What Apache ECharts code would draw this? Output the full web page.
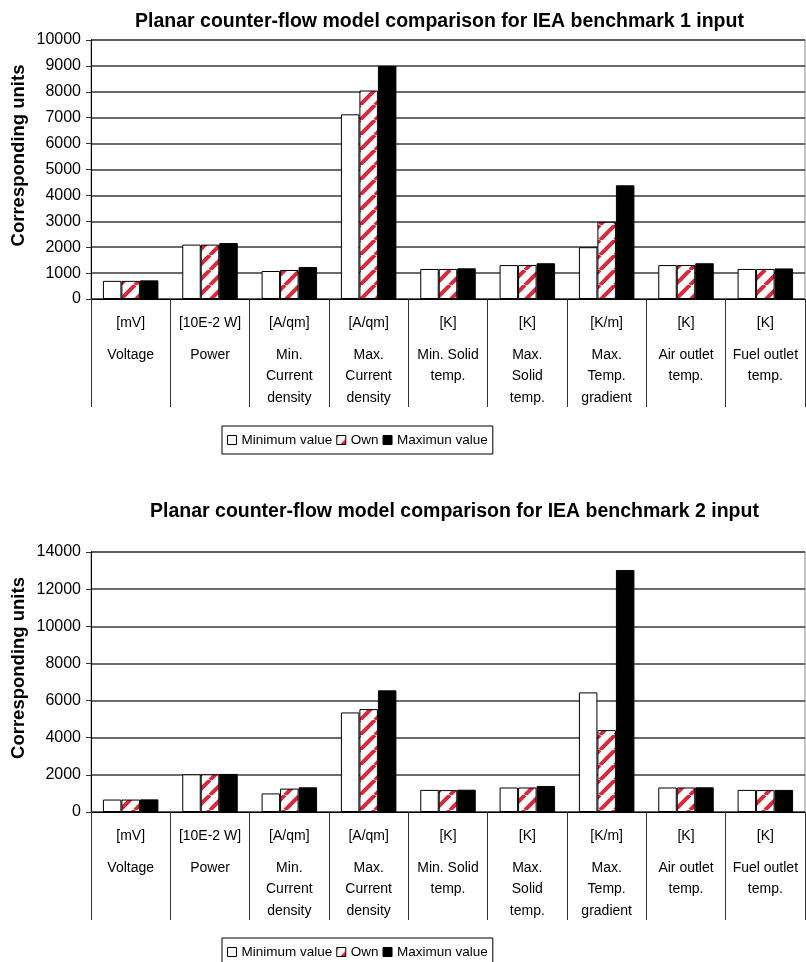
<!DOCTYPE html>
<html>
<head>
<meta charset="utf-8">
<title>Planar counter-flow model comparison</title>
<script src="https://cdn.jsdelivr.net/npm/echarts@6/dist/echarts.min.js"></script>
<style>
  html, body { margin: 0; padding: 0; background: #fff; }
  #chart { width: 806px; height: 962px; }
</style>
</head>
<body>
<div id="chart"></div>
<script>
// Quantities compared, with their units
const categoryUnits = ['[mV]', '[10E-2 W]', '[A/qm]', '[A/qm]', '[K]', '[K]', '[K/m]', '[K]', '[K]'];
const categoryNames = ['Voltage', 'Power', 'Min.\nCurrent\ndensity', 'Max.\nCurrent\ndensity',
  'Min. Solid\ntemp.', 'Max.\nSolid\ntemp.', 'Max.\nTemp.\ngradient', 'Air outlet\ntemp.', 'Fuel outlet\ntemp.'];

const seriesNames = ['Minimum value', 'Own', 'Maximun value'];

// IEA benchmark 1 input
const bench1Min = [700, 2100, 1080, 7130, 1160, 1310, 2000, 1310, 1160];
const bench1Own = [700, 2100, 1120, 8050, 1160, 1310, 2980, 1310, 1160];
const bench1Max = [720, 2160, 1235, 9000, 1185, 1380, 4390, 1380, 1180];

// IEA benchmark 2 input
const bench2Min = [670, 2030, 1000, 5360, 1190, 1320, 6440, 1320, 1190];
const bench2Own = [670, 2030, 1260, 5540, 1180, 1320, 4410, 1320, 1180];
const bench2Max = [680, 2050, 1330, 6550, 1200, 1400, 13030, 1330, 1190];

const titles = [
  'Planar counter-flow model comparison for IEA benchmark 1 input',
  'Planar counter-flow model comparison for IEA benchmark 2 input'
];

// Red diagonal hatch used for the "Own" bars
function makeHatch() {
  const p = 15;
  const c = document.createElement('canvas');
  c.width = p; c.height = p;
  const ctx = c.getContext('2d');
  ctx.fillStyle = '#ffffff';
  ctx.fillRect(0, 0, p, p);
  ctx.strokeStyle = '#d9283c';
  ctx.lineWidth = 4;
  for (const x0 of [-p, 0, p]) {
    ctx.beginPath();
    ctx.moveTo(x0, p);
    ctx.lineTo(x0 + p, 0);
    ctx.stroke();
  }
  return c;
}
const hatch = { image: makeHatch(), repeat: 'repeat' };

const sans = '"Liberation Sans", Arial, sans-serif';

function catLabel(value, index) {
  const lines = value.split('\n').map(s => '{n|' + s + '}').join('\n');
  return '{u|' + categoryUnits[index] + '}\n' + lines;
}

function xAxisFor(gridIndex) {
  return {
    type: 'category',
    gridIndex: gridIndex,
    data: categoryNames,
    axisLine: { lineStyle: { color: '#000', width: 1 } },
    axisTick: { show: true, length: 108, lineStyle: { color: '#333', width: 1 } },
    axisLabel: {
      interval: 0,
      margin: 3,
      formatter: catLabel,
      rich: {
        u: { fontFamily: sans, fontSize: 14, color: '#000', lineHeight: 42 },
        n: { fontFamily: sans, fontSize: 14, color: '#000', lineHeight: 21.5 }
      }
    },
    splitLine: { show: false }
  };
}

function yAxisFor(gridIndex, max, interval) {
  return {
    type: 'value',
    gridIndex: gridIndex,
    min: 0,
    max: max,
    interval: interval,
    name: 'Corresponding units',
    nameLocation: 'middle',
    nameGap: 63,
    nameMoveOverlap: false,
    nameTextStyle: { fontFamily: sans, fontSize: 18.5, fontWeight: 'bold', color: '#000', padding: [0, 0, 0, 28] },
    axisLine: { show: true, lineStyle: { color: '#000', width: 1 } },
    axisTick: { show: true, length: 5, lineStyle: { color: '#333' } },
    axisLabel: { fontFamily: sans, fontSize: 16, color: '#000', margin: 10, formatter: v => String(v) },
    splitLine: { show: true, lineStyle: { color: '#3a3a3a', width: 1.5 } }
  };
}

function barSeries(name, data, idx, fill) {
  return {
    name: name,
    type: 'bar',
    xAxisIndex: idx,
    yAxisIndex: idx,
    data: data,
    barWidth: 18.5,
    barGap: '0%',
    itemStyle: { color: fill, borderColor: '#000', borderWidth: 1 },
    emphasis: { disabled: true }
  };
}

function legendFor(top) {
  return {
    left: 222,
    top: top,
    data: seriesNames,
    icon: 'rect',
    itemWidth: 9,
    itemHeight: 9,
    itemGap: 4,
    padding: [7, 5],
    borderColor: '#000',
    borderWidth: 1,
    textStyle: { fontFamily: sans, fontSize: 13.5, color: '#000' },
    itemStyle: { borderColor: '#000', borderWidth: 1 },
    selectedMode: false
  };
}

const chart = echarts.init(document.getElementById('chart'), null, { renderer: 'canvas' });

const gridBase = {
  left: 91, width: 714, show: true, borderColor: '#888', borderWidth: 1,
  backgroundColor: 'transparent', containLabel: false, outerBoundsMode: 'none'
};

chart.setOption({
  animation: false,
  backgroundColor: '#fff',
  title: [
    { text: titles[0], left: 135, top: 12, padding: 0,
      textStyle: { fontFamily: sans, fontSize: 19.5, fontWeight: 'bold', color: '#000' } },
    { text: titles[1], left: 150, top: 502, padding: 0,
      textStyle: { fontFamily: sans, fontSize: 19.5, fontWeight: 'bold', color: '#000' } }
  ],
  legend: [legendFor(426), legendFor(938)],
  grid: [
    Object.assign({}, gridBase, { top: 40, height: 259 }),
    Object.assign({}, gridBase, { top: 552, height: 260 })
  ],
  xAxis: [xAxisFor(0), xAxisFor(1)],
  yAxis: [yAxisFor(0, 10000, 1000), yAxisFor(1, 14000, 2000)],
  series: [
    barSeries(seriesNames[0], bench1Min, 0, '#fff'),
    barSeries(seriesNames[1], bench1Own, 0, hatch),
    barSeries(seriesNames[2], bench1Max, 0, '#000'),
    barSeries(seriesNames[0], bench2Min, 1, '#fff'),
    barSeries(seriesNames[1], bench2Own, 1, hatch),
    barSeries(seriesNames[2], bench2Max, 1, '#000')
  ]
});
</script>
</body>
</html>
